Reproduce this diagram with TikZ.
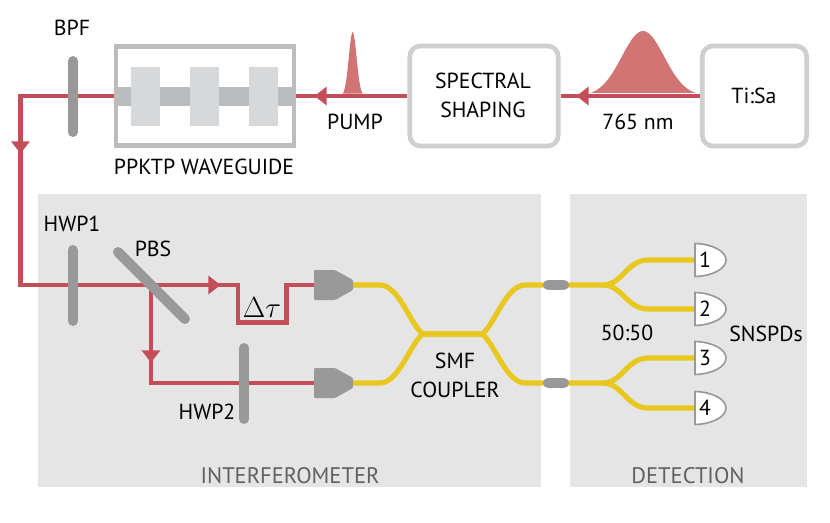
\documentclass[tikz,border=0pt]{standalone}
\usepackage{fontspec}
\setmainfont{PT Sans}
\usepackage{tikz}
\usetikzlibrary{arrows.meta}
\usetikzlibrary{positioning}
\definecolor{beamred}{HTML}{C44E58}
\definecolor{pulsered}{HTML}{D17474}
\definecolor{fibreyellow}{HTML}{E8C71F}
\definecolor{plategray}{HTML}{999999}
\definecolor{panelgray}{HTML}{E5E5E5}
\definecolor{framegray}{HTML}{BBBCBE}
\definecolor{blockgray}{HTML}{D7D8DA}
\definecolor{boxgray}{HTML}{CFCFCD}
\definecolor{captiongray}{HTML}{606060}
\tikzset{
  beam/.style={line width=4pt, color=beamred, line join=miter},
  beamtip/.style={beam, -{Triangle[length=10.5pt, width=15.5pt]}, shorten >=-0.5pt},
  fibre/.style={line width=4.4pt, color=fibreyellow},
  plate/.style={line width=8.5pt, color=plategray, line cap=round},
  sourcebox/.style={draw=boxgray, line width=4pt, rounded corners=9pt, fill=white, align=center, minimum height=3cm},
  panel/.style={fill=panelgray},
  label/.style={font=\fontsize{18.6}{24.6}\selectfont, text=black, align=center, inner sep=0pt},
  caption/.style={label, font=\fontsize{19.2}{24.6}\selectfont, text=captiongray},
  collimator/.style={fill=plategray, rounded corners=1pt},
  splice/.style={draw=plategray, line width=8.5pt, line cap=round}
}
\begin{document}
\begin{tikzpicture}[x=0.03cm,y=-0.03cm]
\useasboundingbox (0,0) rectangle (830,522);
% panels
\fill[panel] (38,194) rectangle (541,487);
\fill[panel] (570,194) rectangle (807,487);
% sources
\node[sourcebox, minimum width=4.45cm] (shaping) at (484,96) {};
\node[sourcebox, minimum width=3.13cm] (tisa) at (754.5,96) {};
\node[label] (shapingtext) at (483,95.5) {SPECTRAL\\SHAPING};
\node[label] (tisatext) at (754,96) {Ti:Sa};
% pulses
\fill[pulsered] plot[smooth, domain=-52:52, samples=50] ({643+\x},{96-65*exp(-(\x/30)^2)});
\fill[pulsered] plot[smooth, domain=-10:10, samples=30] ({352.7+\x},{96-64*exp(-(\x/5.5)^2)});
% waveguide
\coordinate (wgin) at (296,96);
\coordinate (wgout) at (114,96);
\fill[framegray] (114,87) rectangle (296,106);
\foreach \x in {131,190,249}
  \fill[blockgray] (\x,67) rectangle ++(29,59);
\draw[framegray, line width=4pt] (116,46.5) rectangle (294,145.5);
% pump path
\coordinate (corner) at (20.5,96);
\coordinate (lower) at (20.5,285);
\coordinate (tipa) at (577,96);
\coordinate (tipb) at (315,96);
\coordinate (tipc) at (20.5,153);
\coordinate (tipd) at (220,285);
\coordinate (tipe) at (151,362);
\coordinate (pbs) at (151,285);
\coordinate (dlya) at (238,285);
\coordinate (dlyb) at (238,322.5);
\coordinate (dlyc) at (286.5,322.5);
\coordinate (dlyd) at (286.5,285);
\coordinate (armb) at (151,383);
\draw[beam] (tisa.west) -- (shaping.east);
\draw[beamtip] (tisa.west) -- (tipa);
\draw[beam] (shaping.west) -- (wgin);
\draw[beamtip] (shaping.west) -- (tipb);
\draw[beam] (wgout) -- (corner) -- (lower) -- (dlya) -- (dlyb) -- (dlyc) -- (dlyd) -- (316,285);
\draw[beamtip] (corner) -- (tipc);
\draw[beamtip] (lower) -- (tipd);
\draw[beam] (pbs) -- (armb) -- (316,383);
\draw[beamtip] (pbs) -- (tipe);
% plates
\draw[plate] (72.7,61) -- (72.7,132);
\draw[plate] (72.7,250) -- (72.7,321);
\draw[plate] (118,252) -- (185,319);
\draw[plate] (244.3,348) -- (244.3,419);
% fibres
\coordinate (cola) at (352,285);
\coordinate (colb) at (352,383);
\coordinate (joina) at (423,334);
\coordinate (joinb) at (482,334);
\coordinate (outa) at (603,285);
\coordinate (outb) at (603,383);
\draw[fibre] (cola) -- (380,285) .. controls (399,285) and (411,326) .. (joina);
\draw[fibre] (colb) -- (380,383) .. controls (399,383) and (411,342) .. (joina);
\draw[fibre] (joina) -- (joinb);
\draw[fibre] (joinb) .. controls (494,326) and (506,285) .. (525,285) -- (outa);
\draw[fibre] (joinb) .. controls (494,342) and (506,383) .. (525,383) -- (outb);
\foreach \n/\y/\o/\s in {1/260/outa/285,2/309/outa/285,3/358/outb/383,4/408/outb/383} {
  \coordinate (det\n) at (695,\y);
  \draw[fibre] (\o) .. controls (622,\s) and (627,\y) .. (648,\y) -- (det\n);
  \draw[plategray, fill=white, line width=1.4pt] (695,\y-16.5) .. controls (712,\y-16) and (726,\y-9) .. (726,\y)
    .. controls (726,\y+9) and (712,\y+16) .. (695,\y+16.5) -- cycle;
  \node[label] (num\n) at (705,\y) {\n};
}
% collimators
\foreach \y in {285,383}
  \fill[collimator] (314,\y-15) -- (335,\y-15) -- (353,\y-5) -- (353,\y+5) -- (335,\y+15) -- (314,\y+15) -- cycle;
\draw[splice] (548,285) -- (564,285);
\draw[splice] (548,383) -- (564,383);
% labels
\node[label] (bpf) at (72,28) {BPF};
\node[label] (wglabel) at (204,167) {PPKTP WAVEGUIDE};
\node[label] (pump) at (355,122) {PUMP};
\node[label] (wavelength) at (638,122) {765 nm};
\node[label] (hwpa) at (72,224) {HWP1};
\node[label] (pbslabel) at (153,249) {PBS};
\node[label, font=\fontsize{23}{24.6}\selectfont] (delay) at (262,308) {$\Delta\tau$};
\node[label] (hwpb) at (207,412) {HWP2};
\node[label] (coupler) at (455,375) {SMF\\COUPLER};
\node[label] (ratio) at (627,333) {50:50};
\node[label] (snspds) at (766,334) {SNSPDs};
\node[caption] (interf) at (290,476) {INTERFEROMETER};
\node[caption] (detect) at (688,476) {DETECTION};
\end{tikzpicture}
\end{document}
